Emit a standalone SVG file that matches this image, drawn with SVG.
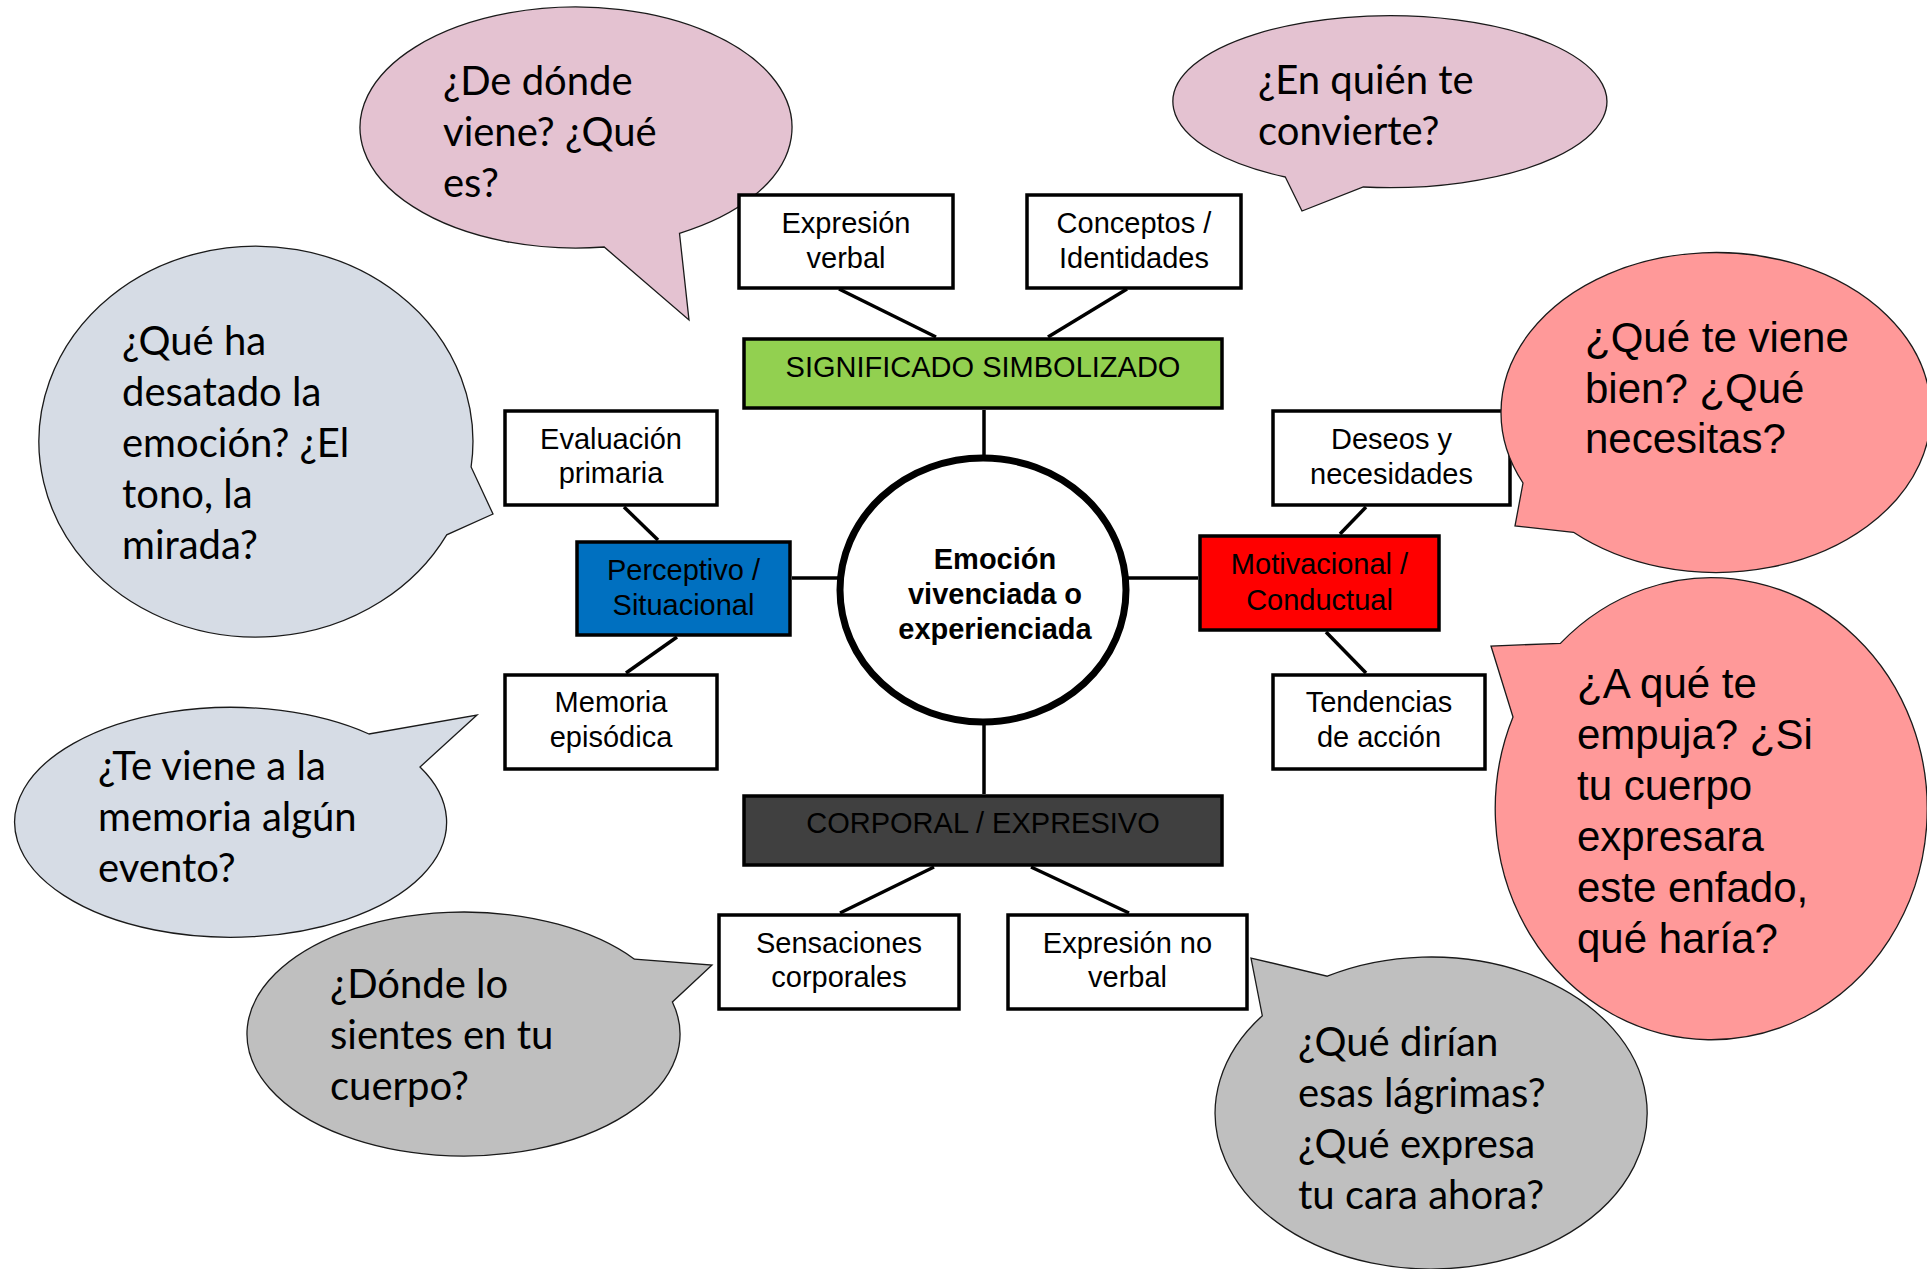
<svg xmlns="http://www.w3.org/2000/svg" width="1927" height="1269" viewBox="0 0 1927 1269">
<style>
.bub{stroke:#1a1a1a;stroke-width:1.3}
.pink{fill:#e4c2d1}
.bluegray{fill:#d6dce5}
.red{fill:#ff9999}
.gray{fill:#bfbfbf}
.q{font-family:Lato,Carlito,sans-serif;font-size:40px;fill:#000}
.qa{font-family:"Liberation Sans",Arial,sans-serif;font-size:42px;fill:#000}
.box{fill:#fff;stroke:#000;stroke-width:3.5}
.t{font-family:"Liberation Sans",Arial,sans-serif;font-size:29px;fill:#000;text-anchor:middle}
.tb{font-family:"Liberation Sans",Arial,sans-serif;font-size:29px;font-weight:bold;fill:#000;text-anchor:middle}
.con line{stroke:#000;stroke-width:3.5}
</style>
<rect width="1927" height="1269" fill="#fff"/>

<g id="bubble-de-donde">
<path class="bub pink" d="M679.5,233.3 A216,120.5 0 1 0 604.2,247 L689,320 Z"/>
<text class="q"><tspan x="443" y="95">¿De dónde</tspan><tspan x="443" y="146">viene? ¿Qué</tspan><tspan x="443" y="197">es?</tspan></text>
</g>
<g id="bubble-en-quien">
<path class="bub pink" d="M1363.3,187 A217,86 0 1 0 1285.3,177 L1302,211 Z"/>
<text class="q"><tspan x="1258" y="94">¿En quién te</tspan><tspan x="1258" y="145">convierte?</tspan></text>
</g>
<g id="bubble-que-ha-desatado">
<path class="bub bluegray" d="M471.1,467 A217,195.5 0 1 0 446.7,534.8 L493,514 Z"/>
<text class="q"><tspan x="122" y="355">¿Qué ha</tspan><tspan x="122" y="406">desatado la</tspan><tspan x="122" y="457">emoción? ¿El</tspan><tspan x="122" y="508">tono, la</tspan><tspan x="122" y="559">mirada?</tspan></text>
</g>
<g id="bubble-memoria">
<path class="bub bluegray" d="M369,734 A216,115 0 1 0 420,767 L477,715 Z"/>
<text class="q"><tspan x="98" y="780">¿Te viene a la</tspan><tspan x="98" y="831">memoria algún</tspan><tspan x="98" y="882">evento?</tspan></text>
</g>
<g id="bubble-donde-lo-sientes">
<path class="bub gray" d="M634.5,959.2 A216.5,122 0 1 0 672.4,1002 L712,965 Z"/>
<text class="q"><tspan x="330" y="998">¿Dónde lo</tspan><tspan x="330" y="1049">sientes en tu</tspan><tspan x="330" y="1100">cuerpo?</tspan></text>
</g>
<g id="bubble-lagrimas">
<path class="bub gray" d="M1262.3,1015.7 A216,156 0 1 0 1327.3,976.2 L1251,958 Z"/>
<text class="q"><tspan x="1298" y="1056">¿Qué dirían</tspan><tspan x="1298" y="1107">esas lágrimas?</tspan><tspan x="1298" y="1158">¿Qué expresa</tspan><tspan x="1298" y="1209">tu cara ahora?</tspan></text>
</g>

<g id="connectors" class="con">
<line x1="839" y1="289" x2="936" y2="337"/>
<line x1="1127" y1="289" x2="1048" y2="337"/>
<line x1="984" y1="410" x2="984" y2="458"/>
<line x1="624" y1="507" x2="658" y2="540"/>
<line x1="677" y1="637" x2="626" y2="673"/>
<line x1="792" y1="578" x2="842" y2="578"/>
<line x1="1124" y1="578" x2="1198" y2="578"/>
<line x1="1366" y1="507" x2="1340" y2="534"/>
<line x1="1326" y1="632" x2="1366" y2="673"/>
<line x1="984" y1="722" x2="984" y2="794"/>
<line x1="934" y1="867" x2="840" y2="913"/>
<line x1="1031" y1="867" x2="1129" y2="913"/>
</g>

<g id="emocion">
<ellipse cx="983" cy="590" rx="143" ry="132" fill="#fff" stroke="#000" stroke-width="7"/>
<text class="tb"><tspan x="995" y="569">Emoción</tspan><tspan x="995" y="604">vivenciada o</tspan><tspan x="995" y="639">experienciada</tspan></text>
</g>
<g id="significado">
<rect class="box" x="744" y="339" width="478" height="69" style="fill:#92d050"/>
<text class="t" x="983" y="377">SIGNIFICADO SIMBOLIZADO</text>
</g>
<g id="expresion-verbal">
<rect class="box" x="739" y="195" width="214" height="93"/>
<text class="t"><tspan x="846" y="233">Expresión</tspan><tspan x="846" y="268">verbal</tspan></text>
</g>
<g id="conceptos">
<rect class="box" x="1027" y="195" width="214" height="93"/>
<text class="t"><tspan x="1134" y="233">Conceptos /</tspan><tspan x="1134" y="268">Identidades</tspan></text>
</g>
<g id="perceptivo">
<rect class="box" x="577" y="542" width="213" height="93" style="fill:#0070c0"/>
<text class="t"><tspan x="683.5" y="580">Perceptivo /</tspan><tspan x="683.5" y="615">Situacional</tspan></text>
</g>
<g id="evaluacion">
<rect class="box" x="505" y="411" width="212" height="94"/>
<text class="t"><tspan x="611" y="449">Evaluación</tspan><tspan x="611" y="483">primaria</tspan></text>
</g>
<g id="memoria">
<rect class="box" x="505" y="675" width="212" height="94"/>
<text class="t"><tspan x="611" y="712">Memoria</tspan><tspan x="611" y="747">episódica</tspan></text>
</g>
<g id="motivacional">
<rect class="box" x="1200" y="536" width="239" height="94" style="fill:#ff0000"/>
<text class="t"><tspan x="1319.5" y="574">Motivacional /</tspan><tspan x="1319.5" y="610">Conductual</tspan></text>
</g>
<g id="deseos">
<rect class="box" x="1273" y="411" width="237" height="94"/>
<text class="t"><tspan x="1391.5" y="449">Deseos y</tspan><tspan x="1391.5" y="484">necesidades</tspan></text>
</g>
<g id="tendencias">
<rect class="box" x="1273" y="675" width="212" height="94"/>
<text class="t"><tspan x="1379" y="712">Tendencias</tspan><tspan x="1379" y="747">de acción</tspan></text>
</g>
<g id="corporal">
<rect class="box" x="744" y="796" width="478" height="69" style="fill:#404040"/>
<text class="t" x="983" y="833">CORPORAL / EXPRESIVO</text>
</g>
<g id="sensaciones">
<rect class="box" x="719" y="915" width="240" height="94"/>
<text class="t"><tspan x="839" y="953">Sensaciones</tspan><tspan x="839" y="987">corporales</tspan></text>
</g>
<g id="expresion-no-verbal">
<rect class="box" x="1008" y="915" width="239" height="94"/>
<text class="t"><tspan x="1127.5" y="953">Expresión no</tspan><tspan x="1127.5" y="987">verbal</tspan></text>
</g>

<g id="bubble-que-te-viene-bien">
<path class="bub red" d="M1573.5,532.3 A215,160 0 1 0 1523,483 L1515,526 Z"/>
<text class="qa"><tspan x="1585" y="352">¿Qué te viene</tspan><tspan x="1585" y="403">bien? ¿Qué</tspan><tspan x="1585" y="453">necesitas?</tspan></text>
</g>
<g id="bubble-a-que-te-empuja">
<path class="bub red" d="M1513,717 A216,231 0 1 0 1560.4,643.4 L1491,646 Z"/>
<text class="qa"><tspan x="1577" y="698">¿A qué te</tspan><tspan x="1577" y="749">empuja? ¿Si</tspan><tspan x="1577" y="800">tu cuerpo</tspan><tspan x="1577" y="851">expresara</tspan><tspan x="1577" y="902">este enfado,</tspan><tspan x="1577" y="953">qué haría?</tspan></text>
</g>
</svg>
